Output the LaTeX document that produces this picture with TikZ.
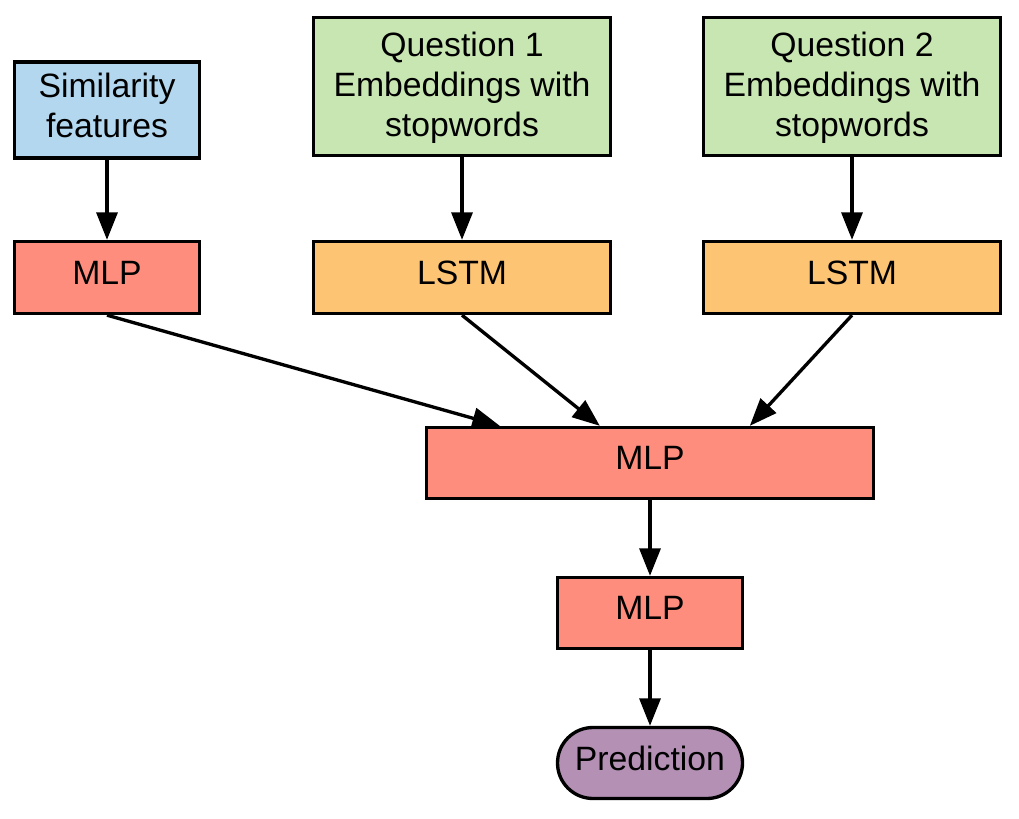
\documentclass[tikz,border=0pt]{standalone}
\usepackage{fontspec}
\setmainfont{Liberation Sans}
\usetikzlibrary{arrows.meta}

\definecolor{simblue}{RGB}{179,215,238}
\definecolor{qgreen}{RGB}{199,230,177}
\definecolor{mlpred}{RGB}{255,141,126}
\definecolor{lstmorange}{RGB}{253,196,116}
\definecolor{predpurple}{RGB}{180,144,180}

\tikzset{
  box/.style={draw, line width=1.9pt, align=center, inner sep=0pt, text depth=0.2cm,
    font=\fontsize{19.2}{22.8}\selectfont},
  flow/.style={line width=1.9pt, -{Triangle[length=0.55cm,width=0.42cm]}}
}

\begin{document}
\begin{tikzpicture}
      \useasboundingbox (0, 0) rectangle (20.38, 16.36);

      \node[box, fill=simblue, minimum width=3.7cm, minimum height=1.92cm] (sim) at (2.14, 14.16) {Similarity\\features};
      \node[box, fill=qgreen, text depth=0.1cm, minimum width=5.94cm, minimum height=2.76cm] (q1) at (9.24, 14.63) {Question 1\\Embeddings with\\stopwords};
      \node[box, fill=qgreen, text depth=0.1cm, minimum width=5.94cm, minimum height=2.76cm] (q2) at (17.04, 14.63) {Question 2\\Embeddings with\\stopwords};

      \node[box, fill=mlpred, minimum width=3.7cm, minimum height=1.44cm] (mlpa) at (2.14, 10.81) {MLP};
      \node[box, fill=lstmorange, minimum width=5.94cm, minimum height=1.44cm] (lstma) at (9.24, 10.81) {LSTM};
      \node[box, fill=lstmorange, minimum width=5.94cm, minimum height=1.44cm] (lstmb) at (17.04, 10.81) {LSTM};

      \node[box, fill=mlpred, minimum width=8.94cm, minimum height=1.42cm] (mlpb) at (13.0, 7.10) {MLP};
      \node[box, fill=mlpred, minimum width=3.7cm, minimum height=1.42cm] (mlpc) at (13.0, 4.10) {MLP};
      \node[box, fill=predpurple, minimum width=3.7cm, minimum height=1.42cm, rounded corners=0.71cm] (pred) at (13.0, 1.10) {Prediction};

      \draw[flow] (sim) -- (mlpa);
      \draw[flow] (q1) -- (lstma);
      \draw[flow] (q2) -- (lstmb);

      \draw[flow] (mlpa.south) -- ([xshift=1.5cm]mlpb.north west);
      \draw[flow] (lstma.south) -- ([xshift=3.5cm]mlpb.north west);
      \draw[flow] (lstmb.south) -- ([xshift=6.5cm]mlpb.north west);

      \draw[flow] (mlpb) -- (mlpc);
      \draw[flow] (mlpc) -- (pred);
    \end{tikzpicture}
\end{document}
